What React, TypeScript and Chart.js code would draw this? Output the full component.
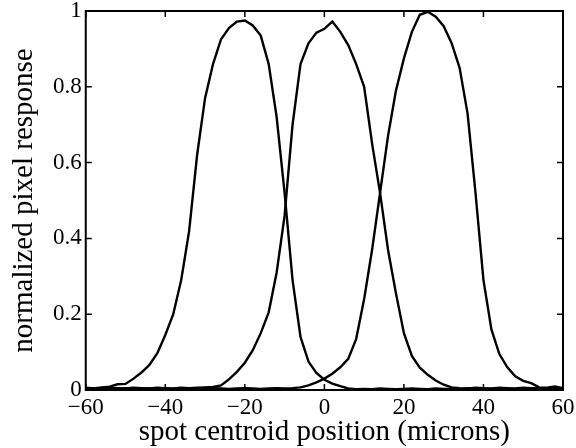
import React, { useEffect, useRef } from "react";
import { Chart, registerables } from "chart.js";

Chart.register(...registerables);

const positions = [
  -60, -58, -56, -54, -52, -50, -48, -46, -44, -42,
  -40, -38, -36, -34, -32, -30, -28, -26, -24, -22,
  -20, -18, -16, -14, -12, -10, -8, -6, -4, -2,
  0, 2, 4, 6, 8, 10, 12, 14, 16, 18,
  20, 22, 24, 26, 28, 30, 32, 34, 36, 38,
  40, 42, 44, 46, 48, 50, 52, 54, 56, 58,
  60,
];

const pixelLeft = [
  0.006, 0.004, 0.007, 0.009, 0.015, 0.016, 0.03, 0.046, 0.066, 0.097,
  0.145, 0.2, 0.29, 0.42, 0.62, 0.77, 0.86, 0.925, 0.955, 0.972,
  0.975, 0.962, 0.935, 0.86, 0.72, 0.52, 0.29, 0.14, 0.075, 0.045,
  0.027, 0.017, 0.01, 0.004, 0.002, 0.003, 0.002, 0.004, 0.003, 0.002,
  0.003, 0.004, 0.003, 0.002, 0.004, 0.003, 0.003, 0.002, 0.004, 0.003,
  0.002, 0.003, 0.004, 0.003, 0.002, 0.003, 0.004, 0.003, 0.002, 0.003,
  0.003,
];

const pixelCenter = [
  0.003, 0.005, 0.004, 0.006, 0.005, 0.004, 0.006, 0.005, 0.004, 0.006,
  0.005, 0.004, 0.006, 0.005, 0.006, 0.007, 0.008, 0.012, 0.028, 0.048,
  0.072, 0.105, 0.15, 0.205, 0.31, 0.46, 0.7, 0.86, 0.915, 0.943,
  0.953, 0.972, 0.945, 0.91, 0.86, 0.8, 0.65, 0.52, 0.37, 0.255,
  0.15, 0.09, 0.059, 0.04, 0.025, 0.014, 0.007, 0.005, 0.004, 0.006,
  0.005, 0.004, 0.006, 0.005, 0.004, 0.006, 0.005, 0.004, 0.005, 0.004,
  0.004,
];

const pixelRight = [
  0.004, 0.003, 0.005, 0.004, 0.003, 0.005, 0.004, 0.003, 0.004, 0.005,
  0.004, 0.003, 0.004, 0.005, 0.004, 0.003, 0.005, 0.004, 0.003, 0.004,
  0.005, 0.004, 0.003, 0.004, 0.005, 0.004, 0.005, 0.007, 0.012, 0.02,
  0.03, 0.043, 0.06, 0.082, 0.135, 0.24, 0.37, 0.52, 0.67, 0.79,
  0.875, 0.945, 0.99, 0.998, 0.985, 0.96, 0.915, 0.85, 0.73, 0.52,
  0.29, 0.16, 0.095, 0.06, 0.036, 0.024, 0.018, 0.007, 0.006, 0.009,
  0.005,
];

const xTitle = "spot centroid position (microns)";
const yTitle = "normalized pixel response";

const FONT = '"Liberation Serif", "Times New Roman", serif';

const framePlugin = {
  id: "frame",
  afterDatasetsDraw(chart: any) {
    const { ctx, chartArea, scales } = chart;
    const { left, right, top, bottom } = chartArea;
    const x = scales.x;
    const y = scales.y;
    ctx.save();
    ctx.strokeStyle = "#000";
    ctx.lineWidth = 2;
    ctx.strokeRect(left, top, right - left, bottom - top);
    ctx.lineWidth = 1.5;
    const len = 6;
    x.ticks.forEach((t: any) => {
      const px = x.getPixelForValue(t.value);
      ctx.beginPath();
      ctx.moveTo(px, bottom);
      ctx.lineTo(px, bottom - len);
      ctx.moveTo(px, top);
      ctx.lineTo(px, top + len);
      ctx.stroke();
    });
    y.ticks.forEach((t: any) => {
      const py = y.getPixelForValue(t.value);
      ctx.beginPath();
      ctx.moveTo(left, py);
      ctx.lineTo(left + len, py);
      ctx.moveTo(right, py);
      ctx.lineTo(right - len, py);
      ctx.stroke();
    });
    ctx.restore();
  },
};

export default function App() {
  const ref = useRef<HTMLCanvasElement | null>(null);

  useEffect(() => {
    if (!ref.current) return;
    const mk = (vals: number[]) => ({
      data: positions.map((p, i) => ({ x: p, y: vals[i] })),
      borderColor: "#000",
      borderWidth: 2.4,
      pointRadius: 0,
      tension: 0,
      fill: false,
    });
    const chart = new Chart(ref.current, {
      type: "line",
      data: {
        datasets: [mk(pixelLeft), mk(pixelCenter), mk(pixelRight)],
      },
      options: {
        animation: false,
        responsive: false,
        events: [],
        layout: { autoPadding: false, padding: { top: 11, right: 13, bottom: 0, left: 0 } },
        plugins: {
          legend: { display: false },
          tooltip: { enabled: false },
        },
        scales: {
          x: {
            type: "linear",
            min: -60,
            max: 60,
            grid: { display: false, drawTicks: false },
            border: { display: false },
            afterFit: (s: any) => {
              s.paddingLeft = 0;
              s.paddingRight = 0;
            },
            ticks: {
              stepSize: 20,
              padding: 6,
              color: "#000",
              maxRotation: 0,
              font: { family: FONT, size: 23, lineHeight: 1 },
              callback: (v: any) => (Number(v) < 0 ? "\u2212" + Math.abs(Number(v)) : String(v)),
            },
            title: {
              display: true,
              text: xTitle,
              color: "#000",
              font: { family: FONT, size: 29, lineHeight: 1 },
              padding: { top: -7, bottom: 1 },
            },
          },
          y: {
            type: "linear",
            min: 0,
            max: 1,
            grid: { display: false, drawTicks: false },
            border: { display: false },
            afterFit: (s: any) => {
              s.paddingTop = 0;
              s.paddingBottom = 0;
            },
            ticks: {
              stepSize: 0.2,
              padding: 4,
              color: "#000",
              font: { family: FONT, size: 23, lineHeight: 1 },
              callback: (v: any) => String(Number(Number(v).toFixed(1))),
            },
            title: {
              display: true,
              text: yTitle,
              color: "#000",
              font: { family: FONT, size: 29, lineHeight: 1 },
              padding: { top: 10, bottom: 10 },
            },
          },
        },
      },
      plugins: [framePlugin],
    });
    return () => chart.destroy();
  }, []);

  return (
    <div style={{ position: "absolute", left: 0, top: 0, width: 576, height: 448, background: "#fff" }}>
      <canvas ref={ref} width={576} height={448} />
    </div>
  );
}
